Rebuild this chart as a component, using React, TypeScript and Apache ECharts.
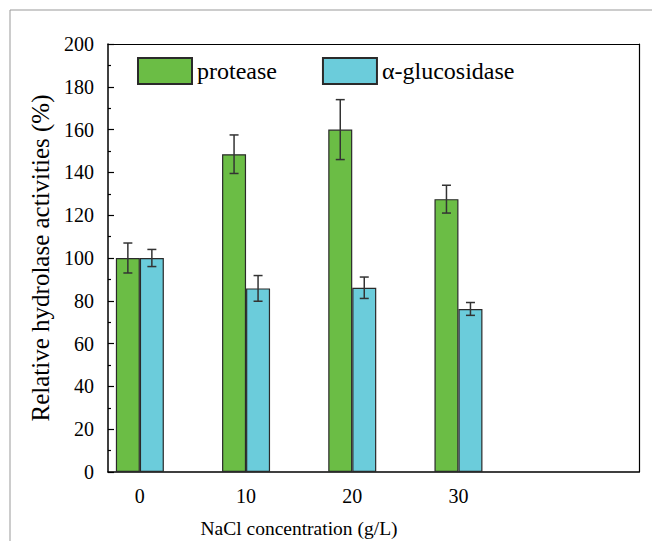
import React, { useEffect, useRef } from "react";
import * as echarts from "echarts";

const categories = [0, 10, 20, 30];
const proteaseValues = [100, 148.5, 160, 127.5];
const proteaseErrors = [7, 9, 14, 6.5];
const glucosidaseValues = [100, 85.8, 86.1, 76.2];
const glucosidaseErrors = [4, 6, 5, 3];
const yTicks = [0, 20, 40, 60, 80, 100, 120, 140, 160, 180, 200];

const FONT = "'Liberation Serif', 'Times New Roman', serif";
const GREEN = "#6BBD45";
const CYAN = "#6BCCDB";
const BAR_W = 24;

export default function App() {
  const ref = useRef<HTMLDivElement>(null);
  useEffect(() => {
    document.body.style.margin = "0";
    const chart = echarts.init(ref.current!, null, { renderer: "svg" });
    const errData = (vals: number[], errs: number[]) =>
      categories.map((c, i) => [c, vals[i] - errs[i], vals[i] + errs[i]]);
    const errSeries = (name: string, vals: number[], errs: number[], offset: number) => ({
      type: "custom",
      name,
      data: errData(vals, errs),
      encode: { x: 0, y: [1, 2] },
      z: 10,
      renderItem: (params: any, api: any) => {
        const x = api.value(0);
        const lo = api.coord([x, api.value(1)]);
        const hi = api.coord([x, api.value(2)]);
        const cx = lo[0] + offset;
        const cap = 4.5;
        const style = { stroke: "#333", lineWidth: 1.5 };
        return {
          type: "group",
          children: [
            { type: "line", shape: { x1: cx, y1: lo[1], x2: cx, y2: hi[1] }, style },
            { type: "line", shape: { x1: cx - cap, y1: lo[1], x2: cx + cap, y2: lo[1] }, style },
            { type: "line", shape: { x1: cx - cap, y1: hi[1], x2: cx + cap, y2: hi[1] }, style },
          ],
        };
      },
    });
    chart.setOption({
      animation: false,
      textStyle: { fontFamily: FONT },
      grid: { left: 108, right: 13, top: 44, bottom: 69, outerBoundsMode: "none" },
      legend: {
        data: ["protease", "α-glucosidase"],
        left: 137,
        top: 57,
        padding: 0,
        itemWidth: 54,
        itemHeight: 26,
        itemGap: 45,
        icon: "rect",
        textStyle: { fontFamily: FONT, fontSize: 24, color: "#000" },
      },
      xAxis: [
        {
          type: "value",
          min: -3,
          max: 47,
          axisLine: { show: true, onZero: false, lineStyle: { color: "#000", width: 1.5 } },
          axisTick: { show: false },
          splitLine: { show: false },
          axisLabel: {
            customValues: categories,
            fontFamily: FONT,
            fontSize: 20,
            color: "#000",
            margin: 14,
          },
        },
        {
          type: "value",
          position: "top",
          min: -3,
          max: 47,
          axisLine: { show: true, onZero: false, lineStyle: { color: "#000", width: 1.2 } },
          axisTick: { show: false },
          axisLabel: { show: false },
          splitLine: { show: false },
        },
      ],
      yAxis: [
        {
          type: "value",
          position: "left",
          min: 0,
          max: 200,
          interval: 20,
          name: "Relative hydrolase activities (%)",
          nameLocation: "middle",
          nameGap: 46,
          nameTextStyle: { fontFamily: FONT, fontSize: 25, color: "#000" },
          axisLine: { show: true, onZero: false, lineStyle: { color: "#000", width: 1.5 } },
          axisTick: { show: true, inside: true, length: 6, lineStyle: { color: "#000", width: 1.2 } },
          minorTick: { show: true, splitNumber: 2, length: 3, lineStyle: { color: "#000", width: 1.2 } },
          splitLine: { show: false },
          axisLabel: {
            customValues: yTicks,
            fontFamily: FONT,
            fontSize: 20,
            color: "#000",
            margin: 14,
          },
        },
        {
          type: "value",
          position: "right",
          min: 0,
          max: 200,
          axisLine: { show: true, onZero: false, lineStyle: { color: "#000", width: 1.2 } },
          axisTick: { show: false },
          axisLabel: { show: false },
          splitLine: { show: false },
        },
      ],
      graphic: [
        {
          type: "rect",
          shape: { x: 10, y: 10, width: 700, height: 600 },
          style: { fill: "none", stroke: "#999", lineWidth: 1 },
          silent: true,
        },
        {
          type: "text",
          x: 299,
          y: 528,
          style: {
            text: "NaCl concentration (g/L)",
            fontFamily: FONT,
            fontSize: 19.5,
            fill: "#000",
            align: "center",
            verticalAlign: "middle",
          },
        },
      ],
      series: [
        {
          type: "bar",
          name: "protease",
          data: categories.map((c, i) => [c, proteaseValues[i]]),
          barWidth: BAR_W,
          barGap: "0%",
          itemStyle: { color: GREEN, borderColor: "#2a2a2a", borderWidth: 1.2 },
        },
        {
          type: "bar",
          name: "α-glucosidase",
          data: categories.map((c, i) => [c, glucosidaseValues[i]]),
          barWidth: BAR_W,
          barGap: "0%",
          itemStyle: { color: CYAN, borderColor: "#2a2a2a", borderWidth: 1.2 },
        },
        errSeries("protease-err", proteaseValues, proteaseErrors, -BAR_W / 2),
        errSeries("glucosidase-err", glucosidaseValues, glucosidaseErrors, BAR_W / 2),
      ],
    });
    return () => chart.dispose();
  }, []);
  return <div ref={ref} style={{ width: 652, height: 541 }} />;
}
